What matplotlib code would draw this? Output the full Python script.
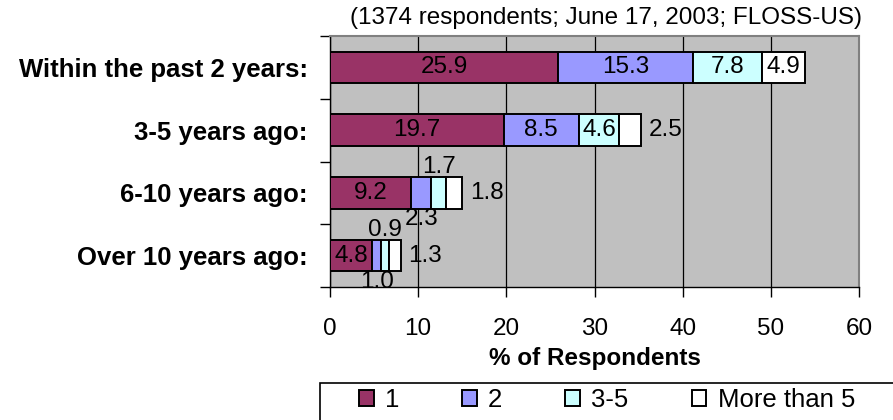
import matplotlib
matplotlib.use("Agg")
import matplotlib.pyplot as plt
from matplotlib.patches import Rectangle
import numpy as np

plt.rcParams['font.family'] = ['Liberation Sans', 'DejaVu Sans']

categories = ['Within the past 2 years:', '3-5 years ago:', '6-10 years ago:', 'Over 10 years ago:']
series_names = ['1', '2', '3-5', 'More than 5']
s1 = [25.9, 19.7, 9.2, 4.8]
s2 = [15.3, 8.5, 2.3, 1.0]
s3 = [7.8, 4.6, 1.7, 0.9]
s4 = [4.9, 2.5, 1.8, 1.3]
colors = ['#993366', '#9999FF', '#CCFFFF', '#FFFFFF']
title = '(1374 respondents; June 17, 2003; FLOSS-US)'

fs = 17.5
fig = plt.figure(figsize=(8.93, 4.2), dpi=100)
ax = fig.add_axes([330/893, 1-287/420, (859-330)/893, (287-36)/420])
ax.set_facecolor('#C0C0C0')

y = np.arange(len(categories))[::-1]
left = np.zeros(len(categories))
series = [s1, s2, s3, s4]
# where to put a label that doesn't fit inside its segment (offset in pixels)
outside = [(0, 0), (0, -26), (0, 26), None]
for k, vals in enumerate(series):
    vals = np.array(vals)
    ax.barh(y, vals, left=left, height=0.5, color=colors[k],
            edgecolor='black', linewidth=1.4, label=series_names[k], zorder=3)
    for yi, l, v in zip(y, left, vals):
        if v >= 3:
            ax.text(l + v/2, yi, f'{v:.1f}', ha='center', va='center', fontsize=fs, zorder=4)
        elif outside[k] is None:
            ax.annotate(f'{v:.1f}', (l + v, yi), xytext=(8, 0), textcoords='offset pixels',
                        ha='left', va='center', fontsize=fs, zorder=4)
        else:
            ax.annotate(f'{v:.1f}', (l + v/2, yi), xytext=outside[k], textcoords='offset pixels',
                        ha='center', va='center', fontsize=fs, zorder=4)
    left = left + vals

ax.set_xlim(0, 60)
ax.set_ylim(-0.5, 3.5)
ax.set_xticks(np.arange(0, 61, 10))
ax.xaxis.grid(True, color='black', linewidth=0.9, zorder=1)
ax.set_axisbelow(True)
ax.tick_params(axis='x', labelsize=fs, length=7, width=1, direction='out', pad=15)

ax.set_yticks(y)
ax.set_yticklabels(categories, fontsize=fs + 1, fontweight='bold')
ax.set_yticks(np.arange(-0.5, 3.6, 1), minor=True)
ax.tick_params(axis='y', which='major', length=0, pad=16)
ax.tick_params(axis='y', which='minor', length=7, width=1, direction='out')

for side in ['top', 'right']:
    ax.spines[side].set_color('#808080')
    ax.spines[side].set_linewidth(1.5)
for side in ['left', 'bottom']:
    ax.spines[side].set_color('black')
    ax.spines[side].set_linewidth(1)

ax.set_xlabel('% of Respondents', fontsize=fs, fontweight='bold', labelpad=5)

fig.text(862/893, 1-18/420, title, ha='right', va='center', fontsize=fs)

# legend box runs off the right edge like in the original
fig.patches.append(Rectangle((320/893, -0.01), 0.7, 37/420 + 0.01, transform=fig.transFigure,
                             facecolor='white', edgecolor='black', linewidth=1.2))
leg = fig.legend(loc='center left', bbox_to_anchor=(359/893, 1-400/420),
                 ncol=4, fontsize=18.5, frameon=False, handlelength=0.58, handleheight=0.58,
                 handletextpad=0.43, columnspacing=2.45, borderaxespad=0, borderpad=0)

fig.savefig('out.png', dpi=100)
